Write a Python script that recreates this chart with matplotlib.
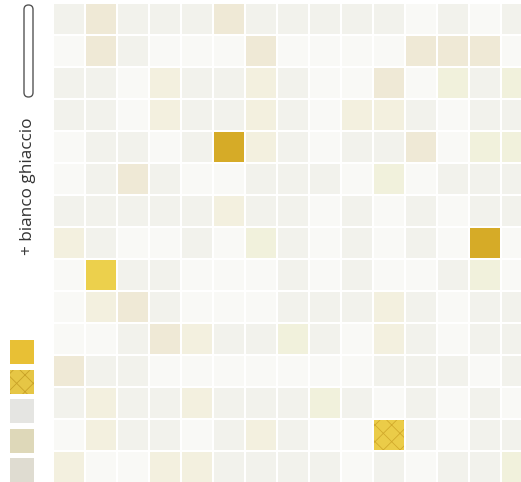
import matplotlib
matplotlib.use("Agg")
import matplotlib.pyplot as plt
from matplotlib.patches import Rectangle, FancyBboxPatch

# ---- data -------------------------------------------------------------
tones = {
    "W": "#f9f9f6",  # white
    "L": "#f2f2ec",  # light grey-white
    "C": "#f3f0df",  # cream
    "B": "#efe9d6",  # beige
    "Y": "#f1f1dc",  # pale yellow-green
    "G": "#d6ab27",  # gold (solid)
    "H": "#ecd04c",  # bright gold
    "T": "#ebcc48",  # textured gold
}
mosaic_rows = [
    "LBLLLBLLLLLWLWL",
    "WBLWWWBWWWWBBBW",
    "LLWCLLCLWWBWYLY",
    "LLWCLLCLWCCLWLL",
    "WLLWLGCLWLLBWYY",
    "WLBLWWLLLWYWLLL",
    "LLLLLCLLWLWLWLL",
    "CLWWLWYLWLWLWGW",
    "WHLLWWWLWLWWLYW",
    "WCBLWWWLLLCLWLL",
    "WWLBCLLYLWCLWLL",
    "BLLWWWWWWWLLLWL",
    "LCLLCLLLYLWLWLW",
    "WCLLWLCLWWTLWLL",
    "CWWCCLLLLWLWLLY",
]
label = "+ bianco ghiaccio"
swatch_colors = ["#e8c035", "#e6c645", "#e5e5e2", "#ded8b9", "#dfdcd1"]
swatch_textured = [False, True, False, False, False]

plt.rcParams["hatch.linewidth"] = 0.6

# ---- figure -----------------------------------------------------------
W, H = 521, 482
fig = plt.figure(figsize=(W / 100, H / 100), dpi=100)
fig.patch.set_facecolor("white")

n_rows = len(mosaic_rows)
ax = fig.add_axes([53 / W, (H - 3 - 32 * n_rows) / H, 32 * n_rows / W, 32 * n_rows / H])
ax.set_facecolor("#f8f8f4")
ax.set_xlim(0, n_rows)
ax.set_ylim(n_rows, 0)
ax.axis("off")
ax.patch.set_visible(True)
gap = 0.025
for r, row in enumerate(mosaic_rows):
    for c, code in enumerate(row):
        col = tones[code]
        ax.add_patch(Rectangle((c + gap, r + gap), 1 - 2 * gap, 1 - 2 * gap,
                               facecolor=col, edgecolor="none"))
        if code == "T":
            ax.add_patch(Rectangle((c + gap, r + gap), 1 - 2 * gap, 1 - 2 * gap,
                                   facecolor="none", edgecolor="#d2aa2c",
                                   hatch="xx", linewidth=0))

# ---- left column: capsule, label, swatches ----------------------------
la = fig.add_axes([0, 0, 53 / W, 1])
la.set_xlim(0, 53)
la.set_ylim(H, 0)
la.axis("off")
la.add_patch(FancyBboxPatch((24, 5), 9, 92, boxstyle="round,pad=0,rounding_size=4.5",
                            facecolor="white", edgecolor="#555555", linewidth=1.0))
la.text(28.5, 186, label, rotation=90, ha="center", va="center",
        fontsize=12.3, color="#333333", family="Open Sans")

for i, (sc, tex) in enumerate(zip(swatch_colors, swatch_textured)):
    y0 = 340 + 29.5 * i
    la.add_patch(Rectangle((10, y0), 24, 24, facecolor=sc, edgecolor="none"))
    if tex:
        la.add_patch(Rectangle((10, y0), 24, 24, facecolor="none",
                               edgecolor="#c9a228", hatch="xx", linewidth=0))

fig.savefig("out.png", dpi=100, facecolor="white")
